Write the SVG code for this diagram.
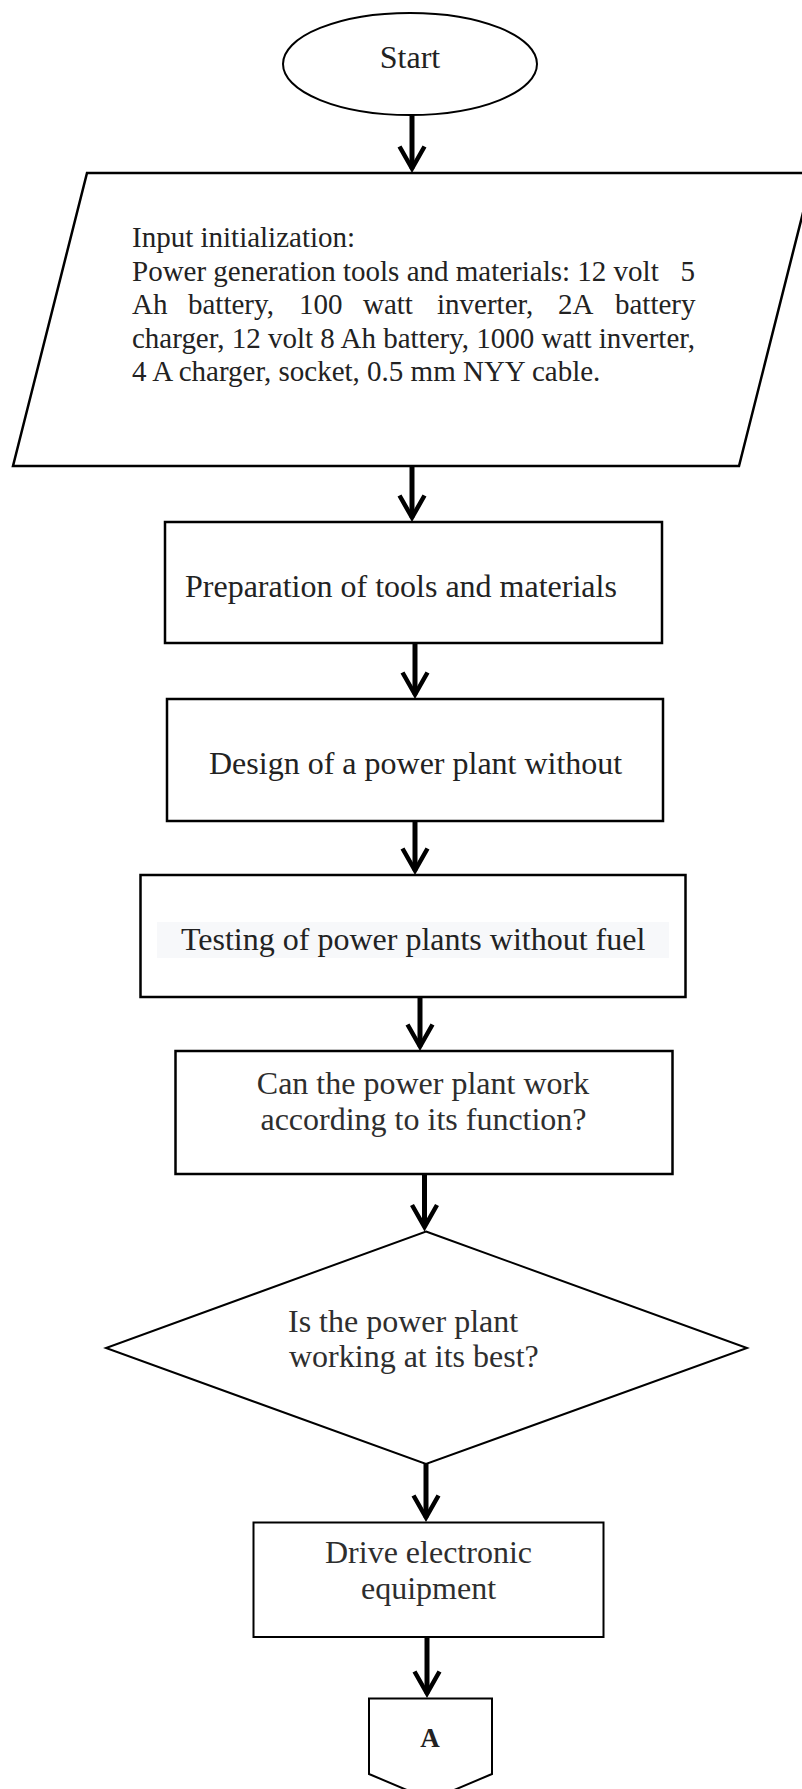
<svg xmlns="http://www.w3.org/2000/svg" width="802" height="1789" viewBox="0 0 802 1789">
<style>
  .shape { fill: #ffffff; stroke: #000000; stroke-width: 2.5; }
  .thin { fill: #ffffff; stroke: #000000; stroke-width: 2; }
  .t { font-family: "Liberation Serif", "Times New Roman", serif; font-size: 32px; fill: #222222; }
  .tp { font-family: "Liberation Serif", "Times New Roman", serif; font-size: 29px; fill: #222222; }
  .tl { font-family: "Liberation Serif", "Times New Roman", serif; font-size: 32px; fill: #2e2e2e; }
  .conn { stroke: #000000; stroke-width: 5; fill: none; marker-end: url(#vhead); }
</style>
<defs>
  <marker id="vhead" markerUnits="userSpaceOnUse" orient="auto" refX="0" refY="0" markerWidth="40" markerHeight="40" overflow="visible">
    <path d="M -22 -12.5 L 0 0 L -22 12.5" fill="none" stroke="#000000" stroke-width="4.5" stroke-linejoin="miter" stroke-miterlimit="10"/>
  </marker>
</defs>
<rect width="802" height="1789" fill="#ffffff"/>

<g id="connectors">
  <line class="conn" x1="412" y1="115" x2="412" y2="168.5"/>
  <line class="conn" x1="412" y1="466" x2="412" y2="517.5"/>
  <line class="conn" x1="415" y1="643" x2="415" y2="694.5"/>
  <line class="conn" x1="415" y1="821" x2="415" y2="870.5"/>
  <line class="conn" x1="420" y1="997" x2="420" y2="1046.5"/>
  <line class="conn" x1="424.5" y1="1174" x2="424.5" y2="1227"/>
  <line class="conn" x1="426" y1="1464" x2="426" y2="1517.5"/>
  <line class="conn" x1="427" y1="1637" x2="427" y2="1693.5"/>
</g>

<g id="start">
  <ellipse class="thin" cx="410" cy="64" rx="127" ry="51"/>
  <text class="t" x="410" y="68" font-size="30" text-anchor="middle">Start</text>
</g>

<g id="input">
  <polygon class="shape" points="87,173 813,173 739,466 13,466"/>
  <text class="tp" x="132" y="247">Input initialization:</text>
  <text class="tp" x="132" y="280.5">Power generation tools and materials: 12 volt</text>
  <text class="tp" x="695" y="280.5" text-anchor="end">5</text>
  <text class="tp" y="314"><tspan x="132">Ah</tspan><tspan x="188">battery,</tspan><tspan x="299">100</tspan><tspan x="363">watt</tspan><tspan x="437">inverter,</tspan><tspan x="558">2A</tspan><tspan x="615">battery</tspan></text>
  <text class="tp" x="132" y="347.5" textLength="563" lengthAdjust="spacing">charger, 12 volt 8 Ah battery, 1000 watt inverter,</text>
  <text class="tp" x="132" y="381">4 A charger, socket, 0.5 mm NYY cable.</text>
</g>

<g id="prep">
  <rect class="shape" x="165" y="522" width="497" height="121"/>
  <text class="t" x="185" y="597">Preparation of tools and materials</text>
</g>

<g id="design">
  <rect class="shape" x="167" y="699" width="496" height="122"/>
  <text class="t" x="209" y="774">Design of a power plant without</text>
</g>

<g id="testing">
  <rect class="shape" x="140.5" y="875" width="545" height="122"/>
  <rect x="157" y="922" width="512" height="36" fill="#f7f8fa"/>
  <text class="t" x="181" y="950">Testing of power plants without fuel</text>
</g>

<g id="can-work">
  <rect class="shape" x="175.5" y="1051" width="497" height="123"/>
  <text class="tl" x="423" y="1094" text-anchor="middle">Can the power plant work</text>
  <text class="tl" x="423.5" y="1130" text-anchor="middle">according to its function?</text>
</g>

<g id="best">
  <polygon class="thin" points="426,1231.5 747,1348 426,1464 106,1348"/>
  <text class="tl" x="288" y="1332">Is the power plant</text>
  <text class="tl" x="289" y="1367">working at its best?</text>
</g>

<g id="drive">
  <rect class="thin" x="253.5" y="1522.5" width="350" height="114.5"/>
  <text class="tl" x="428.5" y="1563" text-anchor="middle">Drive electronic</text>
  <text class="tl" x="428.5" y="1599" text-anchor="middle">equipment</text>
</g>

<g id="connector-a">
  <polygon class="thin" points="369,1698.5 492,1698.5 492,1774 430.5,1800 369,1774"/>
  <text x="430" y="1747" font-family="Liberation Serif, Times New Roman, serif" font-size="27" font-weight="bold" fill="#222222" text-anchor="middle">A</text>
</g>
</svg>
